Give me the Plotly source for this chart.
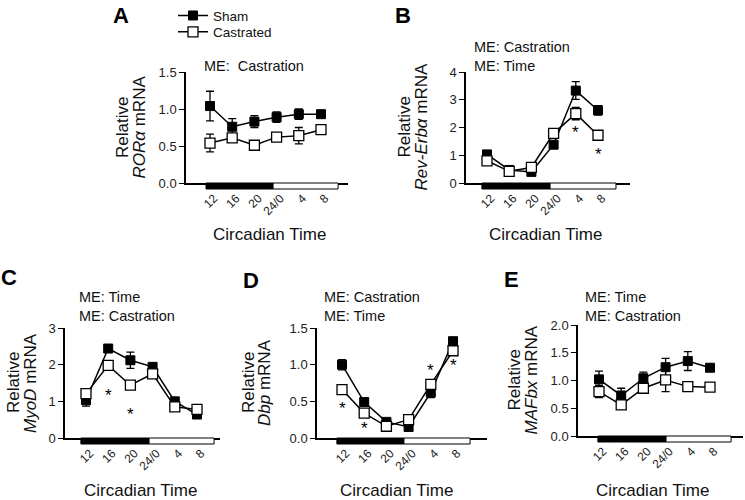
import plotly.graph_objects as go

W, H = 745, 500
FONT = "Liberation Sans, Arial, sans-serif"

CT_LABELS = ["12", "16", "20", "24/0", "4", "8"]
CT_IDX = [0, 1, 2, 3, 4, 5]

# Panel A: RORalpha
A_sham = [1.04, 0.76, 0.83, 0.89, 0.93, 0.93]
A_sham_err = [0.20, 0.11, 0.08, 0.07, 0.07, 0.02]
A_cast = [0.54, 0.61, 0.51, 0.62, 0.64, 0.72]
A_cast_err = [0.12, 0.03, 0.03, 0.03, 0.11, 0.03]
A_stars = []

# Panel B: Rev-Erbalpha
B_sham = [1.03, 0.47, 0.40, 1.38, 3.33, 2.62]
B_sham_err = [0.10, 0.05, 0.05, 0.12, 0.32, 0.17]
B_cast = [0.80, 0.42, 0.56, 1.79, 2.50, 1.72]
B_cast_err = [0.08, 0.05, 0.05, 0.08, 0.22, 0.06]
B_stars = [(4, 1.95), (5, 1.16)]

# Panel C: MyoD
C_sham = [1.03, 2.44, 2.12, 1.94, 1.00, 0.64]
C_sham_err = [0.16, 0.08, 0.22, 0.10, 0.05, 0.04]
C_cast = [1.21, 1.98, 1.44, 1.75, 0.85, 0.78]
C_cast_err = [0.06, 0.13, 0.05, 0.06, 0.04, 0.04]
C_stars = [(1, 1.27), (2, 0.75)]

# Panel D: Dbp
D_sham = [1.00, 0.49, 0.22, 0.15, 0.62, 1.32]
D_sham_err = [0.07, 0.02, 0.02, 0.02, 0.07, 0.03]
D_cast = [0.66, 0.34, 0.16, 0.25, 0.73, 1.19]
D_cast_err = [0.02, 0.02, 0.02, 0.02, 0.03, 0.03]
D_stars = [(0, 0.46), (1, 0.19), (4, 0.98), (5, 1.04)]

# Panel E: MAFbx
E_sham = [1.02, 0.73, 1.04, 1.24, 1.35, 1.23]
E_sham_err = [0.15, 0.13, 0.11, 0.16, 0.17, 0.06]
E_cast = [0.80, 0.56, 0.86, 1.01, 0.89, 0.88]
E_cast_err = [0.11, 0.04, 0.05, 0.21, 0.03, 0.04]
E_stars = []

panels = [
    dict(letter="A", sham=A_sham, se=A_sham_err, cast=A_cast, ce=A_cast_err, stars=A_stars,
         left=186, right=348, top=72, bottom=183, p12=210, yr=[0, 1.5], dt=0.5, fmt=".1f",
         bar=(-0.18, 2.84, 5.77), me=["ME:  Castration"], me_xy=(202, 66),
         gene="<i>ROR\u03b1</i> mRNA", yt_x=(122.5, 139), xt=(269, 234), let_xy=(121, 15)),
    dict(letter="B", sham=B_sham, se=B_sham_err, cast=B_cast, ce=B_cast_err, stars=B_stars,
         left=466, right=630, top=72, bottom=183, p12=487, yr=[0, 4], dt=1, fmt="d",
         bar=(-0.23, 2.84, 5.81), me=["ME: Castration", "ME: Time"], me_xy=(472, 47),
         gene="<i>Rev-Erb\u03b1</i> mRNA", yt_x=(404, 421), xt=(545, 234), let_xy=(403, 15)),
    dict(letter="C", sham=C_sham, se=C_sham_err, cast=C_cast, ce=C_cast_err, stars=C_stars,
         left=65, right=220, top=328, bottom=438, p12=86, yr=[0, 3], dt=1, fmt="d",
         bar=(-0.23, 2.84, 5.77), me=["ME: Time", "ME: Castration"], me_xy=(77, 297),
         gene="<i>MyoD</i> mRNA", yt_x=(13, 30), xt=(140, 490), let_xy=(9, 277)),
    dict(letter="D", sham=D_sham, se=D_sham_err, cast=D_cast, ce=D_cast_err, stars=D_stars,
         left=317, right=487, top=328, bottom=438, p12=342, yr=[0, 1.5], dt=0.5, fmt=".1f",
         bar=(-0.23, 2.79, 5.77), me=["ME: Castration", "ME: Time"], me_xy=(322, 297),
         gene="<i>Dbp</i> mRNA", yt_x=(248, 264), xt=(396, 490), let_xy=(251, 280)),
    dict(letter="E", sham=E_sham, se=E_sham_err, cast=E_cast, ce=E_cast_err, stars=E_stars,
         left=578, right=743, top=325, bottom=436, p12=599, yr=[0, 2.0], dt=0.5, fmt=".1f",
         bar=(-0.05, 3.02, 5.95), me=["ME: Time", "ME: Castration"], me_xy=(583, 297),
         gene="<i>MAFbx</i> mRNA", yt_x=(514, 531), xt=(652, 490), let_xy=(511, 279)),
]

SPACING = 22.2
fig = go.Figure()
annotations = []
shapes = []


def px(x):
    return x / W


def py(y):
    return 1 - y / H


for i, p in enumerate(panels):
    n = "" if i == 0 else str(i + 1)
    xa, ya = "x" + n, "y" + n
    first = i == 0
    fig.add_trace(go.Scatter(
        x=CT_IDX, y=p["sham"], name="Sham", xaxis=xa, yaxis=ya, mode="lines+markers",
        line=dict(color="black", width=1.5),
        marker=dict(symbol="square", size=9, color="black", line=dict(color="black", width=1)),
        error_y=dict(type="data", array=p["se"], color="black", thickness=1.3, width=4),
        showlegend=first, legend="legend", hoverinfo="skip"))
    fig.add_trace(go.Scatter(
        x=CT_IDX, y=p["cast"], name="Castrated", xaxis=xa, yaxis=ya, mode="lines+markers",
        line=dict(color="black", width=1.5),
        marker=dict(symbol="square", size=10, color="white", line=dict(color="black", width=1.3)),
        error_y=dict(type="data", array=p["ce"], color="black", thickness=1.3, width=4),
        showlegend=first, legend="legend2", hoverinfo="skip"))

    xr = [(p["left"] - p["p12"]) / SPACING, (p["right"] - p["p12"]) / SPACING]
    fig.update_layout(**{
        "xaxis" + n: dict(domain=[px(p["left"]), px(p["right"])], range=xr, anchor=ya,
                          showline=True, linecolor="black", linewidth=1.5, automargin=False,
                          tickvals=CT_IDX, ticktext=CT_LABELS, tickangle=-45,
                          ticks="outside", ticklen=2, tickcolor="rgba(0,0,0,0)",
                          ticklabelshift=4,
                          tickfont=dict(size=12, color="#222", family=FONT),
                          showgrid=False, zeroline=False, fixedrange=True),
        "yaxis" + n: dict(domain=[py(p["bottom"]), py(p["top"])], range=p["yr"], anchor=xa,
                          showline=True, linecolor="black", linewidth=1.5, automargin=False,
                          tick0=0, dtick=p["dt"], tickformat=p["fmt"],
                          ticks="outside", ticklen=5, tickwidth=1.3, tickcolor="black",
                          tickfont=dict(size=13, color="#222", family=FONT),
                          showgrid=False, zeroline=False, fixedrange=True),
    })

    # light/dark bar below the x axis
    hfrac = 6 / (p["bottom"] - p["top"])
    b0, b1, b2 = p["bar"]
    shapes.append(dict(type="rect", xref=xa, yref=ya + " domain", x0=b0, x1=b1, y0=-hfrac, y1=0,
                       fillcolor="black", line=dict(color="black", width=1)))
    shapes.append(dict(type="rect", xref=xa, yref=ya + " domain", x0=b1, x1=b2, y0=-hfrac, y1=0,
                       fillcolor="white", line=dict(color="black", width=1)))

    # significance stars
    for sx, sy in p["stars"]:
        annotations.append(dict(x=sx, y=sy, xref=xa, yref=ya, text="*", showarrow=False,
                                yshift=-4, font=dict(size=17, color="black", family=FONT)))

    # ME texts
    mx, my = p["me_xy"]
    for k, t in enumerate(p["me"]):
        annotations.append(dict(x=px(mx), y=py(my + 19 * k), xref="paper", yref="paper", text=t,
                                showarrow=False, xanchor="left", yanchor="middle",
                                font=dict(size=14.5, color="#111", family=FONT)))

    # y-axis titles
    yc = (p["top"] + p["bottom"]) / 2
    for t, xx in zip(["Relative", p["gene"]], p["yt_x"]):
        annotations.append(dict(x=px(xx), y=py(yc), xref="paper", yref="paper", text=t,
                                textangle=-90, showarrow=False, xanchor="center", yanchor="middle",
                                font=dict(size=17, color="#111", family=FONT)))

    # x-axis title
    annotations.append(dict(x=px(p["xt"][0]), y=py(p["xt"][1]), xref="paper", yref="paper",
                            text="Circadian Time", showarrow=False, xanchor="center",
                            yanchor="middle", font=dict(size=17, color="#111", family=FONT)))

    # panel letter
    annotations.append(dict(x=px(p["let_xy"][0]), y=py(p["let_xy"][1]), xref="paper", yref="paper",
                            text="<b>" + p["letter"] + "</b>", showarrow=False, xanchor="center",
                            yanchor="middle", font=dict(size=22, color="black", family=FONT)))

legend_common = dict(xanchor="left", yanchor="middle", bgcolor="rgba(0,0,0,0)",
                     font=dict(size=13.5, color="#111", family=FONT), itemwidth=30)
fig.update_layout(
    width=W, height=H, margin=dict(l=0, r=0, t=0, b=0, autoexpand=False), autosize=False,
    paper_bgcolor="white", plot_bgcolor="white",
    font=dict(family=FONT, color="#111"),
    shapes=shapes, annotations=annotations, hovermode=False,
    legend=dict(x=px(173), y=py(15.7), **legend_common),
    legend2=dict(x=px(173), y=py(32), **legend_common),
)

fig.write_html("out.html", config={"displayModeBar": False},
               post_script="document.body.style.margin='0px';")
